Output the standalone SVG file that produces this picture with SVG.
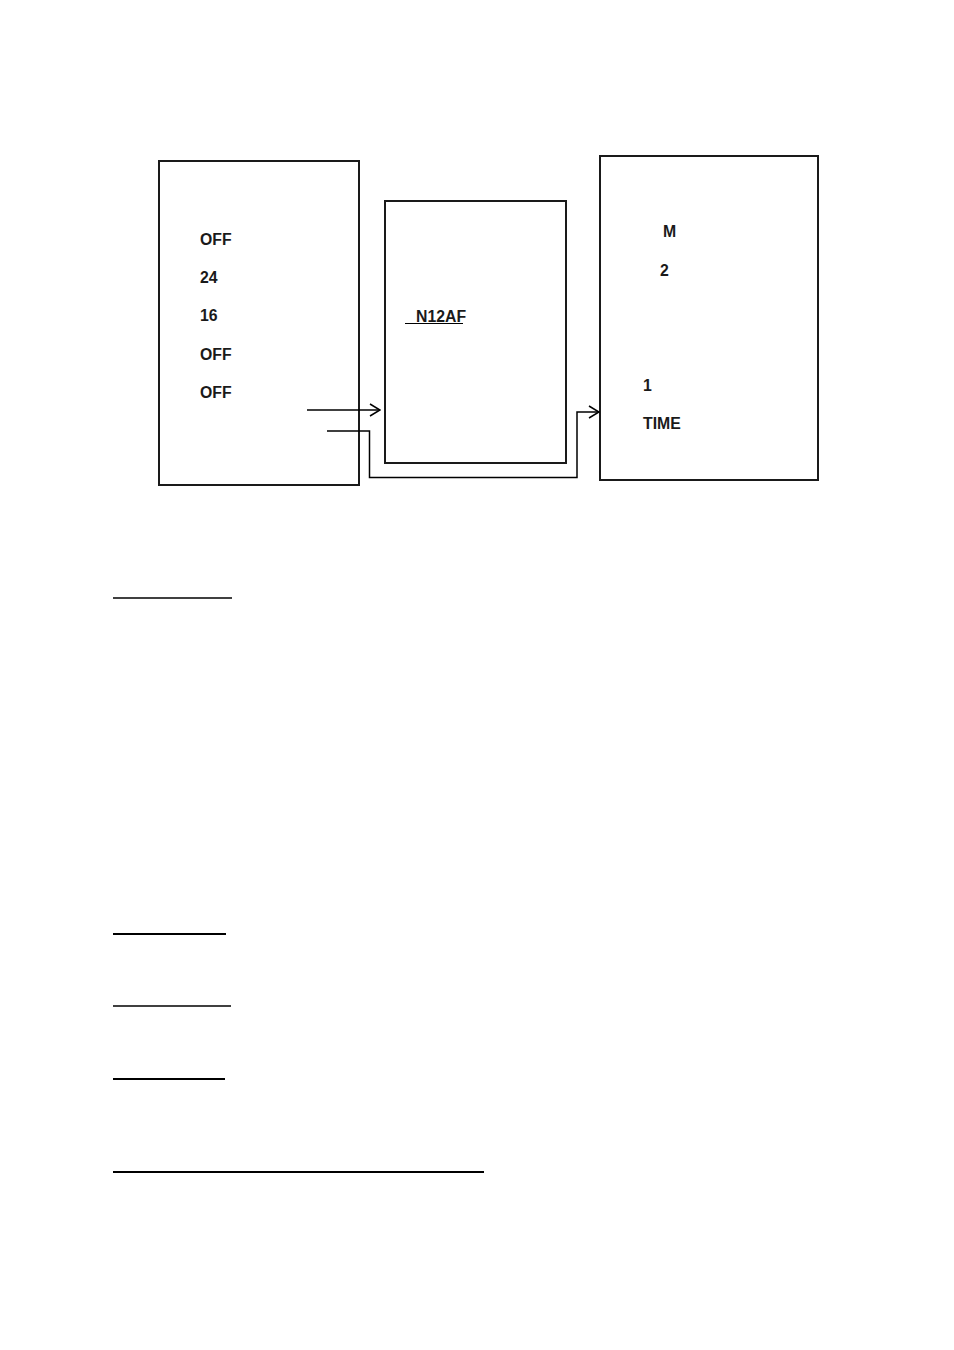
<svg xmlns="http://www.w3.org/2000/svg" width="954" height="1350" viewBox="0 0 954 1350">
<style>
.box{fill:none;stroke:#1a1a1a;stroke-width:2}
.t{font-family:"Liberation Sans",Arial,sans-serif;font-weight:bold;font-size:15.8px;fill:#1a1a1a}
.c{fill:none;stroke:#000;stroke-width:1.5}
.u{stroke:#000}
</style>
<defs>
<marker id="ah" markerWidth="12" markerHeight="14" refX="11" refY="7" orient="auto" markerUnits="userSpaceOnUse">
<path d="M1,1 L11,7 L1,13" fill="none" stroke="#000" stroke-width="1.5"/>
</marker>
</defs>
<rect width="954" height="1350" fill="#fff"/>
<g id="node1">
<rect class="box" x="159" y="161" width="200" height="324"/>
<text class="t" x="200" y="245">OFF</text>
<text class="t" x="200" y="283">24</text>
<text class="t" x="200" y="321">16</text>
<text class="t" x="200" y="360">OFF</text>
<text class="t" x="200" y="398">OFF</text>
</g>
<g id="node2">
<rect class="box" x="385" y="201" width="181" height="262"/>
<text class="t" x="416" y="322">N12AF</text>
<line class="u" x1="405" y1="323.5" x2="463" y2="323.5" stroke-width="1.2"/>
</g>
<g id="node3">
<rect class="box" x="600" y="156" width="218" height="324"/>
<text class="t" x="663" y="237">M</text>
<text class="t" x="660" y="276">2</text>
<text class="t" x="643" y="391">1</text>
<text class="t" x="643" y="429">TIME</text>
</g>
<g id="connectors">
<path class="c" d="M307,410 H380" marker-end="url(#ah)"/>
<path class="c" d="M327,431 H369.5 V477.5 H577 V412 H599" marker-end="url(#ah)"/>
</g>
<g id="rules">
<line class="u" x1="113" y1="598" x2="232" y2="598" stroke-width="1.3"/>
<line class="u" x1="113" y1="934" x2="226" y2="934" stroke-width="2"/>
<line class="u" x1="113" y1="1006" x2="231" y2="1006" stroke-width="1.4"/>
<line class="u" x1="113" y1="1079" x2="225" y2="1079" stroke-width="2"/>
<line class="u" x1="113" y1="1172" x2="484" y2="1172" stroke-width="2"/>
</g>
</svg>
